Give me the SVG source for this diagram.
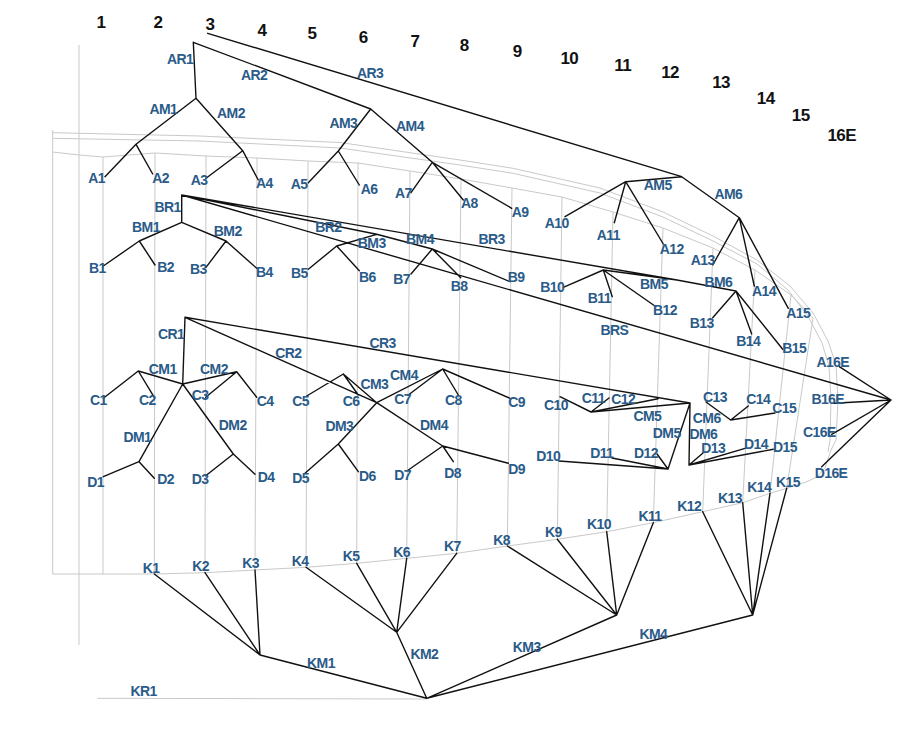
<svg xmlns="http://www.w3.org/2000/svg" width="920" height="737" viewBox="0 0 920 737">
<style>
.c{stroke:#111;stroke-width:1.4;fill:none;stroke-linecap:round;stroke-linejoin:round}
.g{stroke:#c9c9c9;stroke-width:1;fill:none}
.l{font-family:"Liberation Sans",Arial,sans-serif;font-weight:bold;font-size:14px;fill:#2a5b89;text-anchor:middle;letter-spacing:-0.6px}
.n{font-family:"Liberation Sans",Arial,sans-serif;font-weight:bold;font-size:17px;fill:#111;text-anchor:middle;letter-spacing:-0.6px}
</style>
<rect width="920" height="737" fill="#fff"/>
<g id="grid">
<line class="g" x1="79" y1="45" x2="79" y2="645"/>
<polyline class="g" points="52.7,130 52.7,574 154.3,574 205,572.7 255,570 306,567.3 356.7,563.3 406.7,558.3 456.7,553.3 507.3,546 557.3,539.3 606.7,531.7 653.3,522.7 702.7,511.7 742.7,502.7 770,493.3 786.7,488.3 806,482 817,477 825,468 831,450"/>
<polyline class="g" points="52.7,132.7 200,136 340,142.5 460,160 513,168.3 600,188 663,212 713,236 757,260 790,286 813,313 828,341 836,365 838,400 836,440 831,450"/>
<polyline class="g" points="52.7,138.3 200,141 340,148 460,165 513,173.3 600,193 663,217 713,241 757,264 788,290 808,316 822,343 829,366 831,400 830,440 828,452"/>
<polyline class="g" points="52.7,152 79,155 103,157 155,153 206,156 257,158 308,161 358,163 410,171 461,179 512,188 562,197 613,212 663,228 713,248 755,270 791,295 813,318"/>
<line class="g" x1="103" y1="157" x2="103" y2="574"/>
<line class="g" x1="155" y1="153" x2="154.3" y2="574"/>
<line class="g" x1="206" y1="156" x2="205" y2="572.7"/>
<line class="g" x1="257" y1="158" x2="255" y2="570"/>
<line class="g" x1="308" y1="161" x2="306" y2="567.3"/>
<line class="g" x1="358" y1="163" x2="356.7" y2="563.3"/>
<line class="g" x1="410" y1="171" x2="406.7" y2="558.3"/>
<line class="g" x1="461" y1="179" x2="456.7" y2="553.3"/>
<line class="g" x1="512" y1="188" x2="507.3" y2="546"/>
<line class="g" x1="562" y1="197" x2="557.3" y2="539.3"/>
<line class="g" x1="613" y1="212" x2="606.7" y2="531.7"/>
<line class="g" x1="663" y1="228" x2="653.3" y2="522.7"/>
<line class="g" x1="713" y1="248" x2="702.7" y2="511.7"/>
<line class="g" x1="755" y1="270" x2="742.7" y2="502.7"/>
<line class="g" x1="791" y1="295" x2="770" y2="493.3"/>
<line class="g" x1="813" y1="318" x2="786.7" y2="488.3"/>
<line class="g" x1="97.3" y1="698.3" x2="426.7" y2="699"/>
</g>
<g id="connectors">
<path class="c" d="M207.7,33.3L681.7,176.7M193.3,42.3L196,98.3M193.3,42.3L370.7,109
M196,98.3L136,144.3L105,176.7M136,144.3L152.7,174
M196,98.3L242.7,150.7L206,178.3M242.7,150.7L258.3,180
M370.7,109L338.3,151L308.3,182.7M338.3,151L359.3,185
M370.7,109L432.3,162.3L411,192.7M432.3,162.3L463.3,200M432.3,162.3L511.7,208.3
M681.7,176.7L625.7,181.7L565,216.7M625.7,181.7L614.3,222.7M625.7,181.7L663.3,244
M681.7,176.7L739.3,217.7L712.7,265M739.3,217.7L754.3,286M739.3,217.7L788.3,308.3"/>
<path class="c" d="M181.7,195L181.7,222.3L139.3,241L103.3,266M139.3,241L155,265
M181.7,222.3L226,241L206,267.3M226,241L256.7,268.3
M181.7,195L376.7,234.3L336.7,246L308.3,269.3M336.7,246L359.3,270.7
M376.7,234.3L432.3,249L411,274M432.3,249L460.7,277.7M432.3,249L510,281.7
M181.7,195L677,280L603.3,270L563.3,287.3M603.3,270L612.3,296.7M603.3,270L656,306.7
M677,280L736,291L712.7,317.7M736,291L751.7,334M736,291L782.7,349.3
M181.7,195L891,400M839.3,366.7L891,400M834,403.3L891,400M831.7,434.3L891,400M821.7,466.7L891,400"/>
<path class="c" d="M185,317.3L182.7,384L138.3,371L103.3,398.3M138.3,371L154.3,397.3
M182.7,384L236.7,371.7L205.7,397.3M236.7,371.7L256.7,397.3
M182.7,384L139,461.7L103.3,476.7M139,461.7L154.3,478.3
M182.7,384L233.3,454L205.7,475.7M233.3,454L255,474.3
M185,317.3L376.7,402.7L343.3,374L306.7,396M343.3,374L358.3,395
M376.7,402.7L442.7,369L408.3,395M442.7,369L458.3,395M442.7,369L510,398.3
M376.7,402.7L338.3,444L305,473.3M338.3,444L358.3,471.7
M376.7,402.7L442.7,446L408.3,470M442.7,446L453.3,461.7M442.7,446L508.3,463.3
M185,317.3L690,403L591,412L560,396.7M591,412L609,398M591,412L658,398.7
M706,402L730.7,420L748.3,406M730.7,420L775,413
M690,403L668,469L559,461M668,469L612,458M668,469L657,454
M690,403L689,465L703,453M689,465L745,448.3M689,465L773.3,449.3"/>
<path class="c" d="M154.3,574L260,655M205,572.7L260,655M255,570L260,655M260,655L426.7,698.3
M306,567.3L396.7,632.3M356.7,563.3L396.7,632.3M406.7,558.3L396.7,632.3M456.7,553.3L396.7,632.3M396.7,632.3L426.7,698.3
M507.3,546L616.7,615M557.3,539.3L616.7,615M606.7,531.7L616.7,615M653.3,522.7L616.7,615M616.7,615L426.7,698.3
M702.7,511.7L752.7,615M742.7,502.7L752.7,615M770,493.3L752.7,615M786.7,488.3L752.7,615M752.7,615L426.7,698.3"/>
</g>
<g id="columns">
<text class="n" x="101" y="27.8">1</text>
<text class="n" x="158" y="27.8">2</text>
<text class="n" x="210" y="30">3</text>
<text class="n" x="262" y="36">4</text>
<text class="n" x="312" y="38.5">5</text>
<text class="n" x="363.3" y="43">6</text>
<text class="n" x="415" y="47">7</text>
<text class="n" x="464.3" y="51">8</text>
<text class="n" x="517.3" y="57">9</text>
<text class="n" x="569.3" y="64">10</text>
<text class="n" x="622.7" y="71">11</text>
<text class="n" x="670" y="77.5">12</text>
<text class="n" x="721" y="88">13</text>
<text class="n" x="765.7" y="104">14</text>
<text class="n" x="800.7" y="121">15</text>
<text class="n" x="841.7" y="141">16E</text>
</g>
<g id="AR1"><text class="l" x="180" y="64.3">AR1</text></g>
<g id="AR2"><text class="l" x="254" y="80">AR2</text></g>
<g id="AR3"><text class="l" x="370" y="78.3">AR3</text></g>
<g id="AM1"><text class="l" x="163.3" y="114">AM1</text></g>
<g id="AM2"><text class="l" x="231" y="117.7">AM2</text></g>
<g id="AM3"><text class="l" x="343.3" y="128.3">AM3</text></g>
<g id="AM4"><text class="l" x="410" y="131">AM4</text></g>
<g id="AM5"><text class="l" x="657.7" y="190">AM5</text></g>
<g id="AM6"><text class="l" x="728.3" y="199">AM6</text></g>
<g id="A1"><text class="l" x="96.7" y="183.3">A1</text></g>
<g id="A2"><text class="l" x="160.7" y="183.3">A2</text></g>
<g id="A3"><text class="l" x="199" y="185">A3</text></g>
<g id="A4"><text class="l" x="264.3" y="188.3">A4</text></g>
<g id="A5"><text class="l" x="299" y="189.3">A5</text></g>
<g id="A6"><text class="l" x="369" y="194.3">A6</text></g>
<g id="A7"><text class="l" x="403.3" y="198.3">A7</text></g>
<g id="A8"><text class="l" x="469.3" y="208.3">A8</text></g>
<g id="A9"><text class="l" x="520" y="216.7">A9</text></g>
<g id="A10"><text class="l" x="556.7" y="227.7">A10</text></g>
<g id="A11"><text class="l" x="608.3" y="240">A11</text></g>
<g id="A12"><text class="l" x="671.7" y="254">A12</text></g>
<g id="A13"><text class="l" x="702.7" y="265">A13</text></g>
<g id="A14"><text class="l" x="764" y="295.7">A14</text></g>
<g id="A15"><text class="l" x="798.3" y="317.7">A15</text></g>
<g id="A16E"><text class="l" x="832.7" y="366.7">A16E</text></g>
<g id="BR1"><text class="l" x="167.7" y="212.3">BR1</text></g>
<g id="BR2"><text class="l" x="328.3" y="231.7">BR2</text></g>
<g id="BR3"><text class="l" x="491.7" y="244.3">BR3</text></g>
<g id="BRS"><text class="l" x="614.3" y="335">BRS</text></g>
<g id="BM1"><text class="l" x="146" y="231.7">BM1</text></g>
<g id="BM2"><text class="l" x="227.7" y="235.7">BM2</text></g>
<g id="BM3"><text class="l" x="371.7" y="248.3">BM3</text></g>
<g id="BM4"><text class="l" x="420" y="244.3">BM4</text></g>
<g id="BM5"><text class="l" x="654" y="289.3">BM5</text></g>
<g id="BM6"><text class="l" x="718.3" y="287">BM6</text></g>
<g id="B1"><text class="l" x="97.3" y="273.3">B1</text></g>
<g id="B2"><text class="l" x="165.7" y="272.3">B2</text></g>
<g id="B3"><text class="l" x="198.3" y="274.3">B3</text></g>
<g id="B4"><text class="l" x="264.3" y="276.7">B4</text></g>
<g id="B5"><text class="l" x="299.3" y="277.7">B5</text></g>
<g id="B6"><text class="l" x="367.3" y="281.7">B6</text></g>
<g id="B7"><text class="l" x="401.7" y="284">B7</text></g>
<g id="B8"><text class="l" x="459" y="291">B8</text></g>
<g id="B9"><text class="l" x="516" y="282.3">B9</text></g>
<g id="B10"><text class="l" x="552.3" y="291.7">B10</text></g>
<g id="B11"><text class="l" x="599.3" y="303.3">B11</text></g>
<g id="B12"><text class="l" x="665" y="315">B12</text></g>
<g id="B13"><text class="l" x="701.7" y="327.7">B13</text></g>
<g id="B14"><text class="l" x="748.3" y="346">B14</text></g>
<g id="B15"><text class="l" x="794.3" y="353.3">B15</text></g>
<g id="B16E"><text class="l" x="827.7" y="404.3">B16E</text></g>
<g id="CR1"><text class="l" x="171" y="339">CR1</text></g>
<g id="CR2"><text class="l" x="288.3" y="357.7">CR2</text></g>
<g id="CR3"><text class="l" x="382.7" y="348.3">CR3</text></g>
<g id="CM1"><text class="l" x="162.7" y="374">CM1</text></g>
<g id="CM2"><text class="l" x="214" y="374">CM2</text></g>
<g id="CM3"><text class="l" x="374.3" y="389.3">CM3</text></g>
<g id="CM4"><text class="l" x="404" y="380">CM4</text></g>
<g id="CM5"><text class="l" x="647.3" y="421">CM5</text></g>
<g id="CM6"><text class="l" x="706.7" y="422.7">CM6</text></g>
<g id="C1"><text class="l" x="98.3" y="405">C1</text></g>
<g id="C2"><text class="l" x="147.3" y="405">C2</text></g>
<g id="C3"><text class="l" x="200" y="400">C3</text></g>
<g id="C4"><text class="l" x="265" y="405.7">C4</text></g>
<g id="C5"><text class="l" x="300.7" y="405.7">C5</text></g>
<g id="C6"><text class="l" x="351" y="405.7">C6</text></g>
<g id="C7"><text class="l" x="402.7" y="404.3">C7</text></g>
<g id="C8"><text class="l" x="453.3" y="405">C8</text></g>
<g id="C9"><text class="l" x="516.7" y="406.7">C9</text></g>
<g id="C10"><text class="l" x="556" y="410.3">C10</text></g>
<g id="C11"><text class="l" x="593.3" y="403.3">C11</text></g>
<g id="C12"><text class="l" x="623.3" y="404.3">C12</text></g>
<g id="C13"><text class="l" x="715" y="402.3">C13</text></g>
<g id="C14"><text class="l" x="758.3" y="404.3">C14</text></g>
<g id="C15"><text class="l" x="784.3" y="413.3">C15</text></g>
<g id="C16E"><text class="l" x="819.3" y="436.7">C16E</text></g>
<g id="DM1"><text class="l" x="137.3" y="442.3">DM1</text></g>
<g id="DM2"><text class="l" x="232.7" y="430.3">DM2</text></g>
<g id="DM3"><text class="l" x="339.3" y="431">DM3</text></g>
<g id="DM4"><text class="l" x="434" y="430">DM4</text></g>
<g id="DM5"><text class="l" x="666.7" y="438.3">DM5</text></g>
<g id="DM6"><text class="l" x="703.3" y="439">DM6</text></g>
<g id="D1"><text class="l" x="95.7" y="486.7">D1</text></g>
<g id="D2"><text class="l" x="165.7" y="484.3">D2</text></g>
<g id="D3"><text class="l" x="200" y="484.3">D3</text></g>
<g id="D4"><text class="l" x="266" y="482.3">D4</text></g>
<g id="D5"><text class="l" x="300.7" y="482.7">D5</text></g>
<g id="D6"><text class="l" x="367.3" y="481">D6</text></g>
<g id="D7"><text class="l" x="402.7" y="480">D7</text></g>
<g id="D8"><text class="l" x="452.7" y="477.5">D8</text></g>
<g id="D9"><text class="l" x="516.7" y="474.3">D9</text></g>
<g id="D10"><text class="l" x="548.3" y="461">D10</text></g>
<g id="D11"><text class="l" x="601.7" y="458.3">D11</text></g>
<g id="D12"><text class="l" x="646" y="458.3">D12</text></g>
<g id="D13"><text class="l" x="713.3" y="453.3">D13</text></g>
<g id="D14"><text class="l" x="756" y="449">D14</text></g>
<g id="D15"><text class="l" x="785" y="452.3">D15</text></g>
<g id="D16E"><text class="l" x="831" y="477.7">D16E</text></g>
<g id="K1"><text class="l" x="151" y="572.7">K1</text></g>
<g id="K2"><text class="l" x="200.7" y="570.7">K2</text></g>
<g id="K3"><text class="l" x="250.7" y="568.3">K3</text></g>
<g id="K4"><text class="l" x="300" y="565.7">K4</text></g>
<g id="K5"><text class="l" x="351" y="561">K5</text></g>
<g id="K6"><text class="l" x="401.7" y="556.7">K6</text></g>
<g id="K7"><text class="l" x="452.3" y="550.7">K7</text></g>
<g id="K8"><text class="l" x="501.7" y="545">K8</text></g>
<g id="K9"><text class="l" x="553.3" y="536.7">K9</text></g>
<g id="K10"><text class="l" x="599" y="529.3">K10</text></g>
<g id="K11"><text class="l" x="650" y="520.5">K11</text></g>
<g id="K12"><text class="l" x="689.3" y="510.7">K12</text></g>
<g id="K13"><text class="l" x="730" y="502.5">K13</text></g>
<g id="K14"><text class="l" x="759.3" y="492">K14</text></g>
<g id="K15"><text class="l" x="788" y="486.7">K15</text></g>
<g id="KM1"><text class="l" x="321" y="667.7">KM1</text></g>
<g id="KM2"><text class="l" x="424.3" y="659.3">KM2</text></g>
<g id="KM3"><text class="l" x="526.7" y="652.3">KM3</text></g>
<g id="KM4"><text class="l" x="653.3" y="639">KM4</text></g>
<g id="KR1"><text class="l" x="143.7" y="696">KR1</text></g>
</svg>
